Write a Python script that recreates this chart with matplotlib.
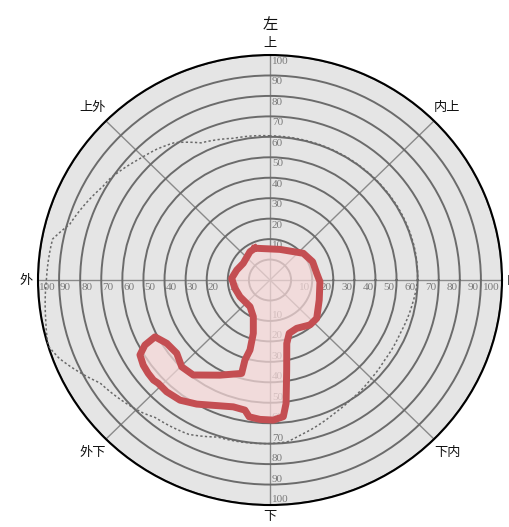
import numpy as np
import matplotlib.pyplot as plt
from matplotlib.path import Path
from matplotlib.patches import PathPatch

plt.rcParams['font.family'] = ['Noto Sans CJK SC', 'DejaVu Sans']

# rings and labels
ring_values = list(range(0, 101, 10))
tick_values = list(range(10, 101, 10))
direction_angles = [0, 45, 90, 135, 180, 225, 270, 315]
direction_labels = ['内', '内上', '上', '上外', '外', '外下', '下', '下内']
title = '左'

# red region (theta in degrees, r)
shape_theta = [114.6, 72.5, 39.6, 23.8, 8.4, -2.0, -22.7, -40.2, -49.2, -61.8,
               -70.7, -75.6, -79.8, -82.8, -84.6, -88.7, -94.0, -98.4, -100.6, -105.7,
               -119.8, -126.0, -131.9, -136.4, -138.5, -141.7, -145.3, -149.3, -151.8, -153.0,
               -147.7, -141.0, -134.6, -128.1, -117.0, -106.4, -106.9, -105.5, -106.9, -113.8,
               -126.0, -150.1, -166.3, 177.4, 162.8, 147.2, 124.4]
shape_r = [7.1, 5.7, 10.5, 12.1, 12.4, 13.7, 15.3, 19.0, 19.0, 16.8,
           17.6, 22.0, 34.7, 50.8, 57.1, 58.5, 58.3, 57.6, 54.7, 54.4,
           59.9, 62.6, 63.4, 63.2, 63.8, 63.6, 63.1, 61.7, 57.3, 51.2,
           47.9, 46.9, 49.6, 49.0, 42.2, 37.6, 30.9, 25.5, 17.2, 9.6,
           6.1, 6.4, 7.1, 8.2, 6.5, 5.1, 6.8]

# dotted outline
dotted_theta = [90, 104, 116, 124, 130, 136, 147, 150, 164, 169, 180, 190, 197, 201,
                212, 227, 231, 243, 252, 269, 276, 280, 288, 295, 303, 315, 324, 337,
                350, 360, 372, 390, 405, 420, 435, 450]
dotted_r = [60.5, 61.4, 64.6, 71, 73.5, 75.5, 80.7, 81.5, 88.8, 95, 96, 98, 100, 97,
            85, 78.7, 76.5, 74.7, 70.7, 70, 69.5, 67.5, 64.5, 62, 60, 58, 57, 57,
            58.5, 60, 60.3, 60.3, 60.2, 60.2, 60.3, 60.5]

fig = plt.figure(figsize=(5.1, 5.27), dpi=100)
ax = fig.add_axes([0.0745, 0.0417, 0.9098, 0.8539], projection='polar')
ax.set_aspect('auto')
ax.set_ylim(-10, 100)
ax.set_facecolor('#e5e5e5')
ax.set_rgrids(ring_values, labels=[])
ax.set_thetagrids(direction_angles, labels=[])
ax.tick_params(length=0)
ax.yaxis.grid(True, color='#6b6b6b', lw=1.4)
ax.xaxis.grid(True, color='#8a8a8a', lw=1.0)
ax.spines['polar'].set_color('black')
ax.spines['polar'].set_linewidth(1.5)

num = dict(fontsize=8, color='#7a7a7a', family='Liberation Serif', zorder=2.6,
           textcoords='offset pixels', annotation_clip=False)
for v in tick_values:
    ax.annotate(str(v), xy=(0, v), xytext=(-2, -3), ha='right', va='top', **num)
    ax.annotate(str(v), xy=(np.pi, v), xytext=(1, -3), ha='left', va='top', **num)
    ax.annotate(str(v), xy=(np.pi / 2, v), xytext=(2, -2), ha='left', va='top', **num)
    ax.annotate(str(v), xy=(3 * np.pi / 2, v), xytext=(2, 1), ha='left', va='bottom', **num)

for ang, lab in zip(direction_angles, direction_labels):
    rr = 109 if ang % 90 else 105.5
    ax.text(np.deg2rad(ang), rr, lab, ha='center', va='center', fontsize=9.5,
            color='#111111', clip_on=False)
ax.text(np.pi / 2, 115, title, ha='center', va='center', fontsize=11,
        color='#111111', clip_on=False)

th = np.deg2rad(shape_theta)
ax.fill(th, shape_r, color='#f6d8d8', alpha=0.72, lw=0, zorder=3)
ax.plot(np.append(th, th[0]), np.append(shape_r, shape_r[0]), color='#c44e52',
        lw=5, solid_joinstyle='round', zorder=4)

# dotted curve; segments subdivided so they bend with the polar scale
dpath = Path(np.column_stack([np.deg2rad(dotted_theta), dotted_r])).interpolated(30)
ax.add_patch(PathPatch(dpath, fill=False, edgecolor='#6a6a6a', lw=1.1,
                       ls=(0, (1.5, 1.5)), zorder=5))

fig.savefig('out.png', dpi=100)
